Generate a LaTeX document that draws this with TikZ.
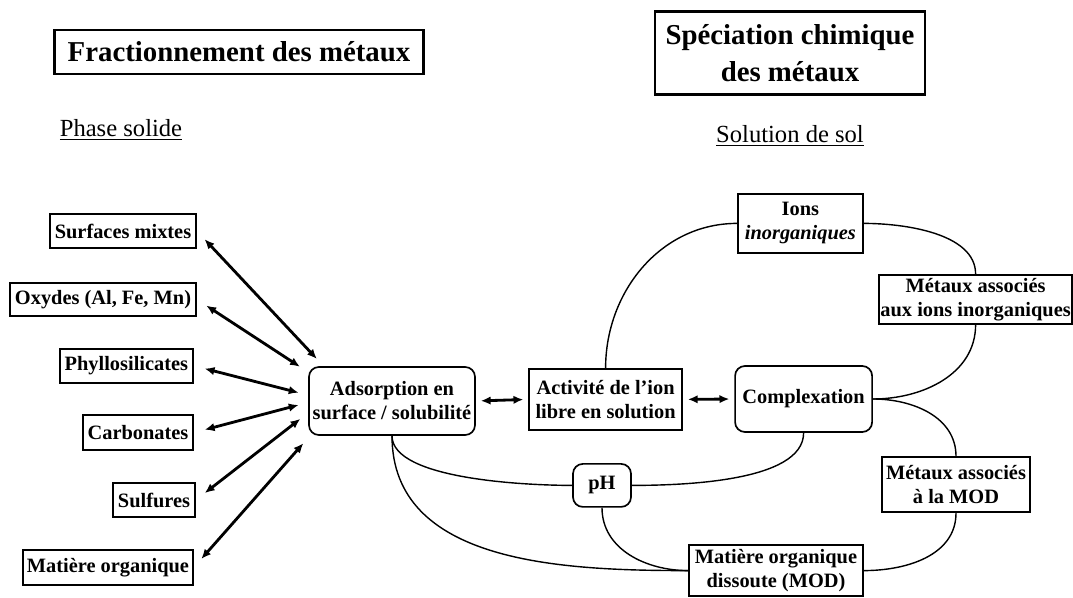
\documentclass[tikz,border=0pt]{standalone}
\usepackage{fontspec}
\setmainfont{Liberation Serif}
\usetikzlibrary{arrows.meta}
\newcommand{\cellfont}{\fontsize{14.5}{17}\selectfont\bfseries}
\newcommand{\headfont}{\fontsize{20.5}{26}\selectfont\bfseries}
\newcommand{\subfont}{\fontsize{17.5}{20}\selectfont}
\tikzset{
  head/.style={draw,line width=2pt,font=\headfont,align=center,inner sep=0pt},
  cell/.style={draw,line width=1.2pt,font=\cellfont,align=center,inner sep=0pt},
  rcell/.style={cell,rounded corners=7pt},
  link/.style={line width=2pt,{Latex[length=7pt,width=6pt]}-{Latex[length=7pt,width=6pt]},
    shorten <=8pt,shorten >=7pt},
  bond/.style={line width=1pt},
}

\begin{document}
\begin{tikzpicture}[x=1cm,y=1cm]
  \useasboundingbox (0,0) rectangle (26.825,14.925);
  % titles of the two halves
  \node[head,minimum width=9.225cm,minimum height=1.1cm] (frac) at (5.975,13.625)
    {Fractionnement des métaux};
  \node[head,minimum width=6.75cm,minimum height=2.075cm] (spec) at (19.75,13.59)
    {Spéciation chimique\\des métaux};
  \node[anchor=base,font=\subfont] (solid) at (3.025,11.5) {\underline{Phase solide}};
  \node[anchor=base,font=\subfont] (soln) at (19.75,11.35) {\underline{Solution de sol}};

  % solid phase: six carriers, right edges about x=4.85
  \node[cell,minimum width=3.65cm,minimum height=0.85cm] (sm) at (3.075,9.15) {Surfaces mixtes};
  \node[cell,minimum width=4.65cm,minimum height=0.825cm] (ox) at (2.575,7.44) {Oxydes (Al, Fe, Mn)};
  \node[cell,minimum width=3.325cm,minimum height=0.85cm] (phy) at (3.16,5.78) {Phyllosilicates};
  \node[cell,minimum width=2.75cm,minimum height=0.875cm] (carb) at (3.45,4.11) {Carbonates};
  \node[cell,minimum width=2.05cm,minimum height=0.85cm] (sulf) at (3.85,2.425) {Sulfures};
  \node[cell,minimum width=4.25cm,minimum height=0.875cm] (mo) at (2.7,0.74) {Matière organique};

  % middle row
  \node[rcell,minimum width=4.15cm,minimum height=1.7cm] (ads) at (9.8,4.9)
    {Adsorption en\\surface / solubilité};
  \node[cell,minimum width=3.825cm,minimum height=1.525cm] (act) at (15.14,4.94)
    {Activité de l’ion\\libre en solution};
  \node[rcell,minimum width=3.425cm,minimum height=1.65cm] (cplx) at (20.09,4.95) {Complexation};

  % soil solution species
  \node[cell,minimum width=3.125cm,minimum height=1.475cm] (ions) at (20.01,9.34)
    {Ions\\\textit{inorganiques}};
  \node[cell,minimum width=4.825cm,minimum height=1.225cm] (minorg) at (24.39,7.44)
    {Métaux associés\\aux ions inorganiques};
  \node[rcell,minimum width=1.45cm,minimum height=1.075cm] (ph) at (15.05,2.79) {pH};
  \node[cell,minimum width=3.7cm,minimum height=1.375cm] (mmod) at (23.9,2.81)
    {Métaux associés\\à la MOD};
  \node[cell,minimum width=4.35cm,minimum height=1.275cm] (mod) at (19.4,0.66)
    {Matière organique\\dissoute (MOD)};

  % exchanges with the solid phase
  \foreach \b/\a in {sm/153,ox/161,phy/176,carb/181,sulf/188,mo/203.5}
    \draw[link] (\b.east) -- (ads.\a);
  \draw[link,shorten <=3.5pt,shorten >=3.5pt] (ads.east) -- (act.west);
  \draw[link,shorten <=3.5pt,shorten >=3.5pt] (act.east) -- (cplx.west);

  % links between species
  \draw[bond] (act.north) to[out=90,in=180] (ions.west);
  \draw[bond] (ions.east) to[out=0,in=90,looseness=0.85] (minorg.north);
  \draw[bond] (minorg.south) to[out=-90,in=0] (cplx.east);
  \draw[bond] (cplx.east) to[out=0,in=90] (mmod.north);
  \draw[bond] (mmod.south) to[out=-90,in=0] (mod.east);
  \draw[bond] (cplx.south) to[out=-90,in=0,looseness=0.7] (ph.east);
  \draw[bond] (ads.south) to[out=-90,in=180,looseness=0.6] (ph.west);
  \draw[bond] (ads.south) to[out=-90,in=180] (mod.west);
  \draw[bond] (ph.south) to[out=-90,in=180] (mod.west);
\end{tikzpicture}
\end{document}
